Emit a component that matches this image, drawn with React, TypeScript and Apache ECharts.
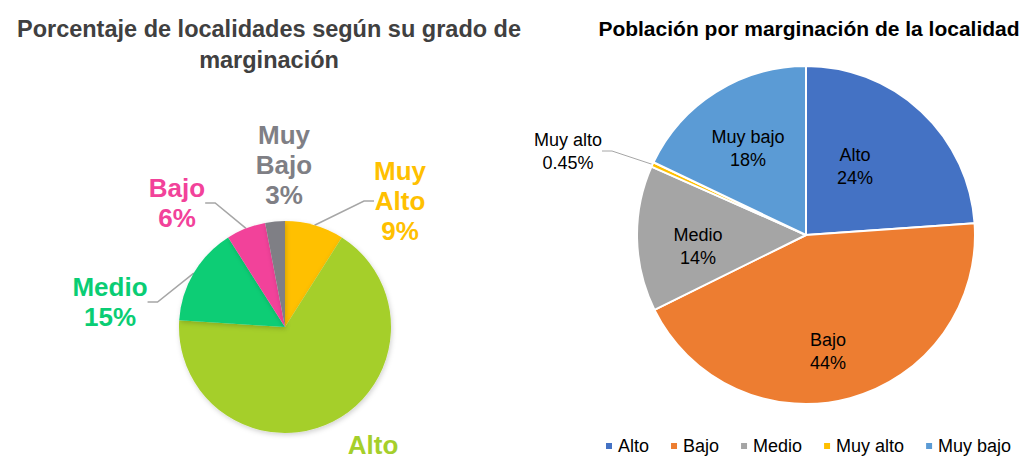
import { useEffect, useRef } from 'react';
import * as echarts from 'echarts';

const leftTitle = 'Porcentaje de localidades según su grado de\nmarginación';
const rightTitle = 'Población por marginación de la localidad';

const leftCategories = ['Muy Alto', 'Alto', 'Medio', 'Bajo', 'Muy Bajo'];
const leftValues = [9, 67, 15, 6, 3];
const leftShowPercent = [true, false, true, true, true];
const leftShowLine = [true, false, true, true, false];
const leftColors = ['#FFC000', '#A5CF2B', '#0ACD74', '#F2429A', '#7F7F85'];

const rightCategories = ['Alto', 'Bajo', 'Medio', 'Muy alto', 'Muy bajo'];
const rightValues = [24, 44, 14, 0.45, 18];
const rightOutside = [false, false, false, true, false];
const rightColors = ['#4472C4', '#ED7D31', '#A5A5A5', '#FFC000', '#5B9BD5'];

// label anchor positions (layout only, pixels)
const leftLabelPos = [[400, 201], [373, 445], [110, 302], [177, 203], [284, 165]];
const rightLabelPos = [[855, 166], [828, 351], [698, 246], [568, 151], [748, 148]];

const FONT = '"Liberation Sans", Arial, sans-serif';

export default function App() {
  const ref = useRef<HTMLDivElement>(null);
  useEffect(() => {
    if (!ref.current) return;
    const chart = echarts.init(ref.current, undefined, { renderer: 'svg' });
    const option: any = {
      animation: false,
      backgroundColor: '#fff',
      title: [
        {
          text: leftTitle,
          left: 264,
          top: 8,
          textAlign: 'center',
          textStyle: { fontFamily: FONT, fontSize: 23.5, fontWeight: 'bold', color: '#404040', lineHeight: 31 },
        },
        {
          text: rightTitle,
          left: 804,
          top: 13,
          textAlign: 'center',
          textStyle: { fontFamily: FONT, fontSize: 21, fontWeight: 'bold', color: '#000' },
        },
      ],
      legend: {
        data: rightCategories,
        left: 604,
        top: 437,
        width: 430,
        padding: 0,
        icon: 'rect',
        itemWidth: 8,
        itemHeight: 8,
        itemGap: 20,
        textStyle: { fontFamily: FONT, fontSize: 18, color: '#000' },
      },
      series: [
        {
          type: 'pie',
          name: 'Población',
          center: [806, 235],
          radius: 169,
          startAngle: 90,
          clockwise: true,
          itemStyle: { borderColor: '#fff', borderWidth: 2 },
          label: {
            fontFamily: FONT,
            fontSize: 18,
            lineHeight: 23,
            color: '#000',
            formatter: (p: any) => `${p.name}\n${p.value}%`,
          },
          labelLine: { lineStyle: { color: '#A6A6A6', width: 1 }, length: 15, length2: 10 },
          labelLayout: (p: any) => ({
            x: rightLabelPos[p.dataIndex][0],
            y: rightLabelPos[p.dataIndex][1],
            align: 'center',
            verticalAlign: 'middle',
          }),
          data: rightCategories.map((n, i) => ({
            name: n,
            value: rightValues[i],
            itemStyle: { color: rightColors[i] },
            label: { position: rightOutside[i] ? 'outside' : 'inside' },
            labelLine: { show: rightOutside[i] },
          })),
        },
        {
          type: 'pie',
          name: 'Localidades',
          center: [285, 327],
          radius: 106,
          startAngle: 90,
          clockwise: true,
          itemStyle: { shadowBlur: 5, shadowColor: 'rgba(0,0,0,0.18)', shadowOffsetX: 1, shadowOffsetY: 2 },
          label: {
            position: 'outside',
            fontFamily: FONT,
            fontSize: 26,
            fontWeight: 'bold',
            lineHeight: 30,
            formatter: (p: any) => {
              const nm = String(p.name).replace(' ', '\n');
              return leftShowPercent[p.dataIndex] ? `${nm}\n${p.value}%` : nm;
            },
          },
          labelLine: { lineStyle: { color: '#A6A6A6', width: 1.5 }, length: 15, length2: 10 },
          labelLayout: (p: any) => ({
            x: leftLabelPos[p.dataIndex][0],
            y: leftLabelPos[p.dataIndex][1],
            align: 'center',
            verticalAlign: 'middle',
          }),
          data: leftCategories.map((n, i) => ({
            name: n,
            value: leftValues[i],
            itemStyle: { color: leftColors[i] },
            label: { color: leftColors[i] },
            labelLine: { show: leftShowLine[i] },
          })),
        },
      ],
    };
    chart.setOption(option);
    return () => chart.dispose();
  }, []);
  return <div ref={ref} style={{ position: 'fixed', left: 0, top: 0, width: 1021, height: 460 }} />;
}
